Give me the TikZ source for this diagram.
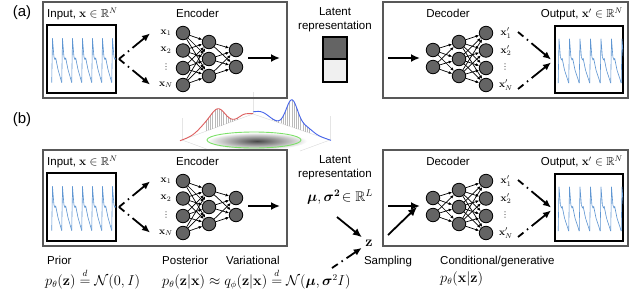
\documentclass[tikz,border=0pt]{standalone}
\usepackage{amsmath,amssymb}
\usepackage[no-math]{fontspec}
\setmainfont{Liberation Sans}
\newfontfamily\dejavusym{DejaVu Sans}
\usetikzlibrary{arrows.meta}
\definecolor{panelgray}{RGB}{88,88,88}
\definecolor{nodegray}{RGB}{100,100,100}
\definecolor{sigblue}{RGB}{95,150,210}
\definecolor{distred}{RGB}{222,95,95}
\definecolor{distblue}{RGB}{70,100,235}
\definecolor{distgreen}{RGB}{125,225,105}
\tikzset{
 panel/.style={draw=panelgray, line width=1.6pt, inner sep=0},
 sigbox/.style={draw=black, line width=1.2pt, inner sep=0},
 neuron/.style={circle, draw=black, fill=nodegray, line width=0.8pt, minimum size=13.5pt, inner sep=0},
 nnedge/.style={-{Latex[length=3.5pt,width=3pt]}, line width=0.7pt, black},
 lbl/.style={font=\fontsize{11.5}{14}\selectfont, inner sep=0},
 xlbl/.style={font=\fontsize{10}{12}\selectfont, inner sep=0},
 dotlbl/.style={font=\dejavusym\fontsize{8}{9}\selectfont, inner sep=0, text=black!80},
 mlbl/.style={font=\fontsize{13.5}{15}\selectfont, inner sep=0},
 biglbl/.style={font=\fontsize{15}{17}\selectfont, inner sep=0},
 bigarrow/.style={-{Latex[length=9pt,width=8pt]}, line width=1.8pt},
 dasharrow/.style={-{Latex[length=8pt,width=7pt]}, line width=1.8pt, dash pattern=on 7pt off 4.5pt on 1.5pt off 4.5pt on 40pt},
 wave/.style={sigblue, line width=0.6pt, line join=round},
 latbox/.style={draw=black, line width=1.2pt, inner sep=0, minimum width=24pt},
 barline/.style={gray!55, line width=0.45pt},
 floorline/.style={gray!30, line width=0.4pt},
}
\newcommand\eqd{\stackrel{\raisebox{1.2pt}{$\scriptstyle d$}}{=}}
% signal: #1,#2 top-left of box, #3 first peak offset, #4 period
\newcommand\drawSignal[4]{%
 \begin{scope}
 \clip (#1,#2) rectangle ++(68,67);
 \foreach \k in {0,...,7} {
   \pgfmathsetmacro\p{#1+#3+#4*\k}
   \draw[wave] (\p-0.8,#2+57) -- (\p,#2+13) -- (\p+1.4,#2+31) -- (\p+2.4,#2+34) -- (\p+3.2,#2+32.5) -- (\p+5.5,#2+44) -- (\p+#4-0.8,#2+57);
 }
 \end{scope}
}
\newcommand\drawEncoder[2]{%
 \begin{scope}[shift={(0,#2)}]
 \node[panel, minimum width=244pt, minimum height=96pt] (#1panel) at (165,50) {};
 \node[lbl, anchor=west] (#1in) at (47,14) {Input, $\mathbf{x}\in\mathbb{R}^N$};
 \node[lbl] (#1enc) at (197.5,13) {Encoder};
 \node[sigbox, minimum width=69pt, minimum height=68pt] (#1sig) at (81.5,59) {};
 \drawSignal{47.5}{25.5}{5}{10}
 \foreach \y [count=\i] in {33,50.5,68,85} {\node[neuron] (#1a\i) at (183,\y) {};}
 \foreach \y [count=\i] in {42,59,76} {\node[neuron] (#1b\i) at (209,\y) {};}
 \foreach \y [count=\i] in {50,67} {\node[neuron] (#1c\i) at (236,\y) {};}
 \foreach \i in {1,...,4} {\foreach \j in {1,2,3} {\draw[nnedge] (#1a\i) -- (#1b\j);}}
 \foreach \i in {1,2,3} {\foreach \j in {1,2} {\draw[nnedge] (#1b\i) -- (#1c\j);}}
 \node[xlbl] (#1x1) at (166,33) {$\mathbf{x}_1$};
 \node[xlbl] (#1x2) at (166,50.5) {$\mathbf{x}_2$};
 \node[dotlbl] (#1xd) at (166,67) {⋮};
 \node[xlbl] (#1xN) at (166,85) {$\mathbf{x}_N$};
 \coordinate (#1tip) at (119,59);
 \coordinate (#1up) at (150,33.5);
 \coordinate (#1dn) at (150,84.5);
 \draw[dasharrow] (#1tip) -- (#1up);
 \draw[dasharrow] (#1tip) -- (#1dn);
 \coordinate (#1outs) at (248,58);
 \coordinate (#1oute) at (280,58);
 \draw[bigarrow] (#1outs) -- (#1oute);
 \end{scope}
}
\newcommand\drawDecoder[2]{%
 \begin{scope}[shift={(0,#2)}]
 \node[panel, minimum width=245pt, minimum height=96pt] (#1panel) at (505.5,50) {};
 \node[lbl] (#1dec) at (448,13) {Decoder};
 \node[lbl, anchor=east] (#1out) at (623,14) {Output, $\mathbf{x}'\in\mathbb{R}^N$};
 \node[sigbox, minimum width=68pt, minimum height=67pt] (#1sig) at (589,59.5) {};
 \drawSignal{555}{26}{4}{10.5}
 \foreach \y [count=\i] in {50,67} {\node[neuron] (#1a\i) at (433,\y) {};}
 \foreach \y [count=\i] in {42,59,76} {\node[neuron] (#1b\i) at (459,\y) {};}
 \foreach \y [count=\i] in {33,50.5,68,85} {\node[neuron] (#1c\i) at (486,\y) {};}
 \foreach \i in {1,2} {\foreach \j in {1,2,3} {\draw[nnedge] (#1a\i) -- (#1b\j);}}
 \foreach \i in {1,2,3} {\foreach \j in {1,...,4} {\draw[nnedge] (#1b\i) -- (#1c\j);}}
 \node[xlbl] (#1x1) at (506,33) {$\mathbf{x}'_1$};
 \node[xlbl] (#1x2) at (506,50.5) {$\mathbf{x}'_2$};
 \node[dotlbl] (#1xd) at (505,67) {⋮};
 \node[xlbl] (#1xN) at (506,85) {$\mathbf{x}'_N$};
 \coordinate (#1s1) at (518,32);
 \coordinate (#1s2) at (518,89);
 \coordinate (#1e1) at (551,59.5);
 \coordinate (#1e2) at (551,62.5);
 \draw[dasharrow] (#1s1) -- (#1e1);
 \draw[dasharrow] (#1s2) -- (#1e2);
 \coordinate (#1ins) at (388,58);
 \coordinate (#1ine) at (420,58);
 \draw[bigarrow] (#1ins) -- (#1ine);
 \end{scope}
}
\begin{document}
\begin{tikzpicture}[x=1pt, y=-1pt,
 declare function={
  redh(\t)=17*exp(-((\t-218)/10)*((\t-218)/10)) + 6*exp(-((\t-205)/10)*((\t-205)/10)) + 3*exp(-((\t-244)/7)*((\t-244)/7));
  blueh(\t)=27*exp(-((\t-292)/8)*((\t-292)/8)) + 5*exp(-((\t-262)/10)*((\t-262)/10)) + 5*exp(-((\t-306)/9)*((\t-306)/9));
  redb(\t)=140-(\t-182)*26/71;
  blueb(\t)=114+(\t-253)*26/77;
 }]
\useasboundingbox[fill=white] (0,0) rectangle (640,301);

% ---- distribution sketch (b) ----
\shade[inner color=black!72, outer color=white] (257,141) ellipse [x radius=50pt, y radius=8.5pt];
\draw[floorline] (182,140) -- (253,114) -- (330,140);
\draw[floorline] (182,140) -- (212,151) (330,140) -- (300,151);
\draw[gray!20, line width=0.4pt] (253,114) -- (253,92) (330,140) -- (330,116) (182,140) -- (182,118);
\draw[distgreen, line width=0.9pt] (254,140) ellipse [x radius=47pt, y radius=8pt];
\foreach \x in {206,208.2,...,238} {
  \draw[barline] (\x,{redb(\x)}) -- (\x,{redb(\x)-redh(\x)});
}
\foreach \x in {272,274.2,...,310} {
  \draw[barline] (\x,{blueb(\x)}) -- (\x,{blueb(\x)-blueh(\x)});
}
\draw[distred, line width=0.9pt] plot[domain=180:253, samples=70, smooth] (\x,{redb(\x)-redh(\x)});
\draw[distblue, line width=0.9pt] plot[domain=253:331, samples=70, smooth] (\x,{blueb(\x)-blueh(\x)});

% ---- panel labels ----
\node[biglbl] (laba) at (22,13) {(a)};
\node[biglbl] (labb) at (22,120) {(b)};

% ---- panel (a) ----
\drawEncoder{ea}{0}
\drawDecoder{da}{0}
\node[lbl, align=center] (lata) at (335,20) {Latent\\representation};
\node[latbox, fill=nodegray, minimum height=22pt] (latTop) at (335,48) {};
\node[latbox, fill=gray!12, minimum height=23pt] (latBot) at (335,70.5) {};

% ---- panel (b) ----
\drawEncoder{eb}{148}
\drawDecoder{db}{148}
\node[lbl, align=center] (latb) at (335,168) {Latent\\representation};
\node[mlbl, font=\fontsize{14}{16}\selectfont] (musig) at (340,197) {$\boldsymbol{\mu},\boldsymbol{\sigma^2}\!\in\mathbb{R}^L$};
\node[mlbl, font=\fontsize{14}{16}\selectfont, inner sep=1pt] (z) at (369,243) {$\mathbf{z}$};
\node[lbl] (samp) at (388,262) {Sampling};
\node[lbl, anchor=west] (cond) at (440,262) {Conditional/generative};
\node[mlbl, anchor=west] (condf) at (440,279) {$p_\theta(\mathbf{x}|\mathbf{z})$};
\node[lbl, anchor=west] (prior) at (47,260) {Prior};
\node[mlbl, anchor=west] (priorf) at (45,279) {$p_\theta(\mathbf{z})\eqd\mathcal{N}(0,I)$};
\node[lbl, anchor=west] (post) at (162,260) {Posterior};
\node[lbl, anchor=west] (vari) at (226,260) {Variational};
\node[mlbl, anchor=west] (postf) at (162,279) {$p_\theta(\mathbf{z}|\mathbf{x})\approx q_\phi(\mathbf{z}|\mathbf{x})\eqd\mathcal{N}(\boldsymbol{\mu},\boldsymbol{\sigma}^2 I)$};
\coordinate (mstart) at (337,217);
\draw[bigarrow, shorten >=3pt] (mstart) -- (z);
\coordinate (vstart) at (332,268);
\draw[dasharrow, shorten >=3pt] (vstart) -- (z);
\coordinate (zout) at (388,235);
\coordinate (decin) at (417,207);
\draw[bigarrow] (zout) -- (decin);
\end{tikzpicture}
\end{document}
